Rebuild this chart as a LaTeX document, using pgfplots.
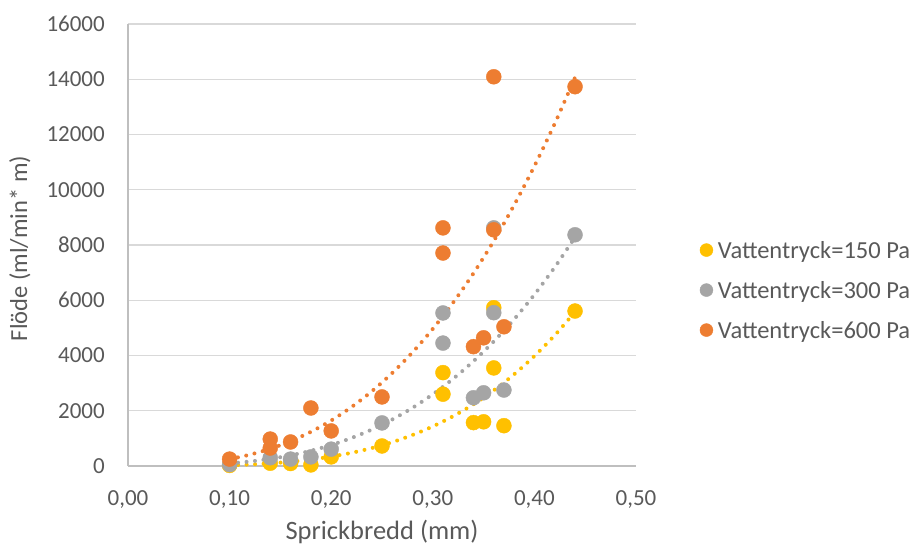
\documentclass[border=0pt]{standalone}
\usepackage{fontspec}
\setmainfont{Carlito}
\usepackage{pgfplots}
\pgfplotsset{compat=1.18}
\definecolor{cyellow}{HTML}{FFC000}
\definecolor{cgray}{HTML}{A5A5A5}
\definecolor{corange}{HTML}{ED7D31}
\definecolor{ctext}{HTML}{595959}
\definecolor{cgrid}{HTML}{D9D9D9}
\definecolor{caxis}{HTML}{BFBFBF}
\begin{document}
\begin{tikzpicture}
\begin{axis}[
  scale only axis,
  width=508pt, height=442pt,
  xmin=0, xmax=0.5, ymin=0, ymax=16000,
  xtick={0,0.1,0.2,0.3,0.4,0.5},
  ytick={0,2000,4000,6000,8000,10000,12000,14000,16000},
  scaled ticks=false,
  major tick length=0pt,
  axis lines*=left,
  axis line style={draw=caxis, line width=1.2pt},
  ymajorgrids,
  grid style={draw=cgrid, line width=1.2pt},
  every tick label/.append style={text=ctext, inner sep=0pt, font=\fontsize{23}{27}\selectfont},
  /pgf/number format/assume math mode=true,
  xticklabel style={/pgf/number format/fixed, /pgf/number format/fixed zerofill, /pgf/number format/precision=2, /pgf/number format/use comma},
  yticklabel style={/pgf/number format/fixed, /pgf/number format/1000 sep={}},
  xticklabel shift=24pt,
  yticklabel shift=23pt,
  xlabel={Sprickbredd (mm)},
  ylabel={Flöde (ml/min* m)},
  xlabel style={text=ctext, font=\fontsize{26.5}{30}\selectfont, at={(axis description cs:0.5,-0.1674)}, anchor=base},
  ylabel style={text=ctext, font=\fontsize{24.5}{28}\selectfont, at={(axis description cs:-0.1988,0.492)}, anchor=base, rotate=0},
  legend style={draw=none, fill=none, at={(axis description cs:1.1255,0.398)}, anchor=west,
    font=\fontsize{24.5}{28}\selectfont, text=ctext, row sep=23pt, column sep=5pt, inner sep=0pt,
    nodes={inner sep=0pt, text height=17pt, text depth=0pt}},
  legend image code/.code={\draw[#1, mark size=6.5pt] plot coordinates {(6.5pt,0pt)};},
  legend cell align=left,
  clip=false,
]
% trend lines (power fits)
\addplot[draw=cyellow, line width=4pt, dash pattern=on 0pt off 8.5pt, line cap=round, smooth, forget plot] coordinates {
(0.10,29)(0.12,55)(0.14,96)(0.16,154)(0.18,234)(0.20,340)(0.22,477)(0.24,649)(0.26,862)(0.28,1122)(0.30,1433)(0.32,1802)(0.34,2234)(0.36,2737)(0.38,3317)(0.40,3979)(0.42,4731)(0.44,5580)};
\addplot[draw=cgray, line width=4pt, dash pattern=on 0pt off 8.5pt, line cap=round, smooth, forget plot] coordinates {
(0.10,93)(0.12,162)(0.14,258)(0.16,386)(0.18,552)(0.20,760)(0.22,1014)(0.24,1320)(0.26,1682)(0.28,2106)(0.30,2596)(0.32,3156)(0.34,3793)(0.36,4509)(0.38,5311)(0.40,6205)(0.42,7194)(0.44,8283)};
\addplot[draw=corange, line width=4pt, dash pattern=on 0pt off 8.5pt, line cap=round, smooth, forget plot] coordinates {
(0.10,250)(0.12,410)(0.14,624)(0.16,898)(0.18,1237)(0.20,1647)(0.22,2135)(0.24,2705)(0.26,3363)(0.28,4114)(0.30,4963)(0.32,5915)(0.34,6975)(0.36,8147)(0.38,9442)(0.40,10855)(0.42,12393)(0.44,14064)};
% data
\addplot[only marks, mark=*, mark size=7.5pt, color=cyellow, mark options={draw=none, fill=cyellow}] coordinates {
(0.10,20)(0.14,100)(0.16,90)(0.18,40)(0.20,330)(0.25,725)(0.31,3380)(0.31,2600)(0.36,5730)(0.36,3550)(0.34,1570)(0.35,1600)(0.37,1460)(0.44,5610)};
\addlegendentry{Vattentryck=150 Pa}
\addplot[only marks, mark=*, mark size=7.5pt, color=cgray, mark options={draw=none, fill=cgray}] coordinates {
(0.10,50)(0.14,300)(0.16,250)(0.18,330)(0.20,610)(0.25,1560)(0.31,5540)(0.31,4450)(0.36,8620)(0.36,5550)(0.34,2470)(0.35,2650)(0.37,2750)(0.44,8370)};
\addlegendentry{Vattentryck=300 Pa}
\addplot[only marks, mark=*, mark size=7.5pt, color=corange, mark options={draw=none, fill=corange}] coordinates {
(0.10,250)(0.14,975)(0.14,650)(0.16,870)(0.18,2100)(0.20,1270)(0.25,2500)(0.31,8620)(0.31,7710)(0.36,14090)(0.36,8550)(0.34,4320)(0.35,4640)(0.37,5040)(0.44,13730)};
\addlegendentry{Vattentryck=600 Pa}
\end{axis}
\pgfresetboundingbox
\path ([shift={(-128pt,-82pt)}]current axis.south west) rectangle ([shift={(277pt,24pt)}]current axis.north east);
\end{tikzpicture}
\end{document}
